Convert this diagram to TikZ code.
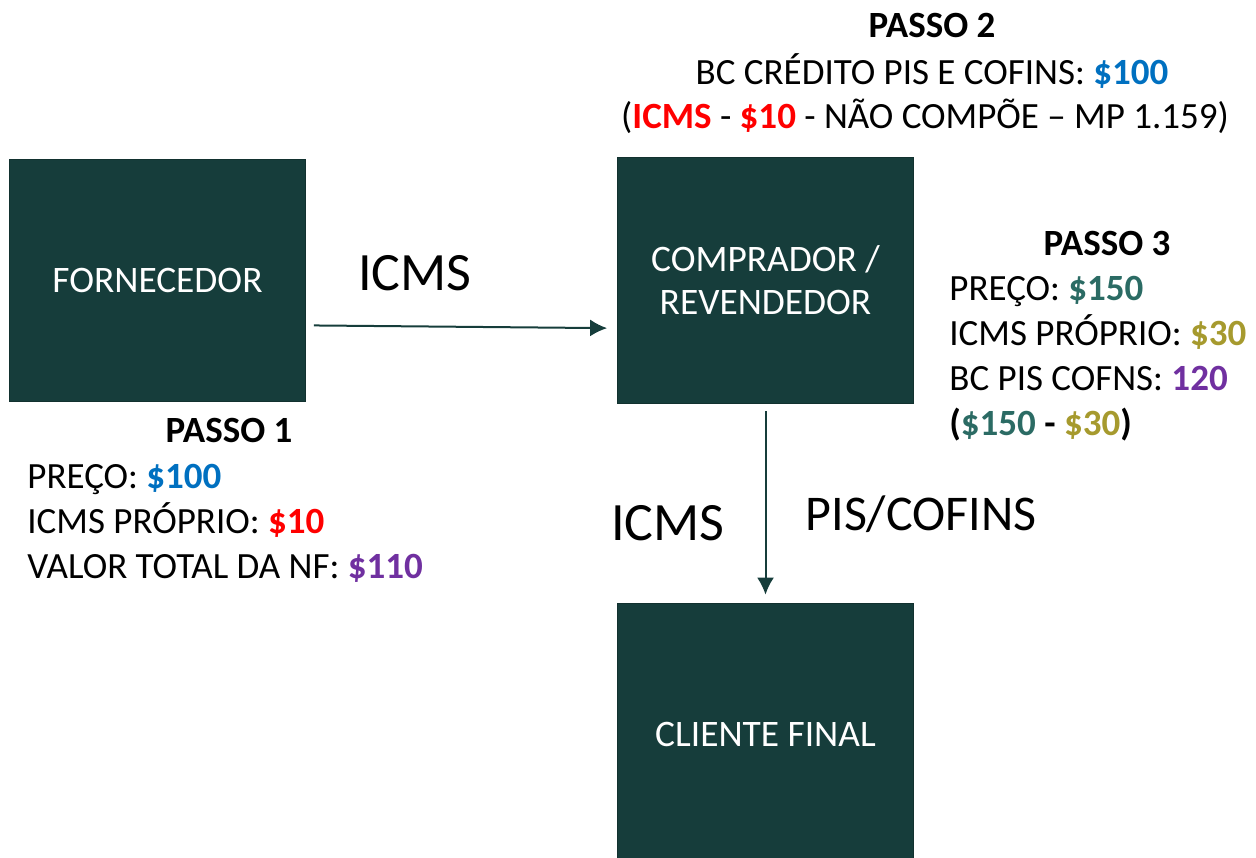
\documentclass[tikz,border=0pt]{standalone}
\usepackage{fontspec}
\setmainfont{Carlito}
\usepackage{xcolor}
\usetikzlibrary{arrows.meta}

\definecolor{boxGreen}{HTML}{163D3B}
\definecolor{valBlue}{HTML}{0070C0}
\definecolor{valRed}{HTML}{FF0000}
\definecolor{valPurple}{HTML}{7030A0}
\definecolor{valTeal}{HTML}{2B6B64}
\definecolor{valGold}{HTML}{A69A2E}

\begin{document}
\begin{tikzpicture}[x=0.5pt,y=-0.5pt,>={Latex[length=8.5pt,width=8.5pt]}]
        \useasboundingbox (0,0) rectangle (1256,857);
        \tikzstyle{box} = [draw=boxGreen!80!black, fill=boxGreen, rectangle,
            text=white, font=\fontsize{18.7}{21.5}\selectfont, align=center,
            minimum width=148pt, minimum height=121pt, inner sep=0pt]
        \tikzstyle{flowEdge} = [boxGreen, line width=1pt, ->];
        \tikzstyle{bigLabel} = [anchor=base, inner sep=0pt,
            font=\fontsize{27}{32}\selectfont];
        \tikzstyle{title} = [anchor=base, inner sep=0pt,
            font=\bfseries\fontsize{18.5}{22.5}\selectfont];
        \tikzstyle{info} = [anchor=base west, inner sep=0pt, align=left,
            font=\fontsize{18.5}{22.5}\selectfont];
        \newcommand{\val}[2]{\textcolor{#1}{\textbf{#2}}}

        % the three parties
        \node[box] (nodeForn) at (157.5,280) {FORNECEDOR};
        \node[box, minimum height=123pt] (nodeComp) at (765.5,280)
            {COMPRADOR /\\REVENDEDOR};
        \node[box, minimum height=131pt] (nodeCli) at (765.5,734) {CLIENTE FINAL};

        % flows
        \draw (nodeForn.-17.7)
        edge[flowEdge, shorten <=4pt, shorten >=5pt] (nodeComp.198.6);
        \draw (nodeComp.south)
        edge[flowEdge, shorten <=4pt, shorten >=4pt] (nodeCli.north);

        \node[bigLabel] (lblIcmsA) at (415,290) {ICMS};
        \node[bigLabel] (lblIcmsB) at (668,540) {ICMS};
        \node[bigLabel, font=\fontsize{25}{30}\selectfont] (lblPis) at (921,530) {PIS/COFINS};

        % passo 1
        \node[title] (passoA) at (229,442) {PASSO 1};
        \node[info] (infoA) at (27,578)
            {PRE\c{C}O: \val{valBlue}{\$100}\\
             ICMS PR\'OPRIO: \val{valRed}{\$10}\\
             VALOR TOTAL DA NF: \val{valPurple}{\$110}};

        % passo 2
        \node[title] (passoB) at (932,37) {PASSO 2};
        \node[info, anchor=base] (infoB) at (932,84)
            {BC CR\'EDITO PIS E COFINS: \val{valBlue}{\$100}};
        \node[info, anchor=base] (infoB2) at (925,128)
            {(\val{valRed}{ICMS} - \val{valRed}{\$10} - N\~AO COMP\~OE -- MP 1.159)};

        % passo 3
        \node[title] (passoC) at (1107,255) {PASSO 3};
        \node[info] (infoC) at (949,435)
            {PRE\c{C}O: \val{valTeal}{\$150}\\
             ICMS PR\'OPRIO: \val{valGold}{\$30}\\
             BC PIS COFNS: \val{valPurple}{120}\\
             \textbf{(\textcolor{valTeal}{\$150} - \textcolor{valGold}{\$30})}};
    \end{tikzpicture}
\end{document}
